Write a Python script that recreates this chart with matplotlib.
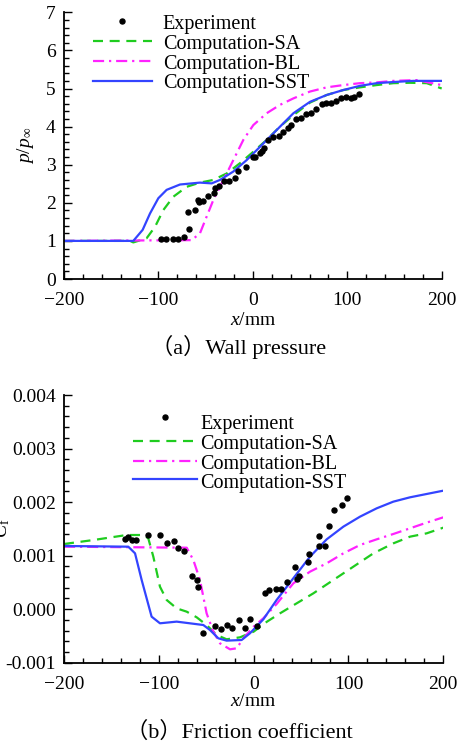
import matplotlib
matplotlib.use("Agg")
import matplotlib.pyplot as plt
from matplotlib.lines import Line2D
from matplotlib.ticker import MultipleLocator, FormatStrFormatter
import numpy as np

plt.rcParams['font.family'] = ['Liberation Serif', 'Noto Sans CJK SC']
plt.rcParams['mathtext.fontset'] = 'custom'
plt.rcParams['mathtext.rm'] = 'Liberation Serif'
plt.rcParams['mathtext.it'] = 'Liberation Serif:italic'
plt.rcParams['axes.unicode_minus'] = True

# ---------------- wall pressure ----------------
p_exp_x = [-97.3, -92.0, -84.9, -78.9, -72.9, -67.3, -68.3, -61.3, -57.7, -56.7,
           -52.4, -47.1, -41.2, -40.1, -35.5, -30.6, -24.9, -18.9, -15.4, -7.6,
           0.5, 2.3, 7.6, 9.3, 11.8, 16.4, 21.7, 27.7, 31.6, 37.6,
           40.4, 45.7, 50.6, 56.3, 61.2, 66.9, 72.9, 77.1, 82.4, 88.0,
           93.0, 98.6, 103.6, 107.1, 112.8]
p_exp_y = [1.06, 1.06, 1.06, 1.05, 1.10, 1.30, 1.76, 1.82, 2.08, 2.02,
           2.06, 2.17, 2.26, 2.39, 2.44, 2.57, 2.57, 2.66, 2.84, 2.93,
           3.21, 3.21, 3.32, 3.35, 3.44, 3.65, 3.73, 3.75, 3.85, 3.96,
           4.04, 4.20, 4.23, 4.33, 4.36, 4.47, 4.60, 4.62, 4.63, 4.66,
           4.74, 4.77, 4.76, 4.79, 4.85]

p_sa_x = [-200, -130, -126.6, -112.5, -103.6, -94.8, -84.2, -70.1, -56.0, -41.9,
          -27.7, -13.6, 0.5, 14.6, 28.7, 42.9, 60.5, 78.2, 95.8, 113.5,
          131.1, 148.8, 166.4, 184.1, 200]
p_sa_y = [1.00, 1.00, 0.96, 1.07, 1.37, 1.81, 2.16, 2.42, 2.53, 2.60,
          2.77, 3.04, 3.34, 3.65, 4.00, 4.30, 4.63, 4.83, 4.96, 5.03,
          5.09, 5.14, 5.15, 5.14, 5.00]

p_bl_x = [-200, -64.8, -56.0, -48.9, -41.9, -34.8, -27.7, -20.7, -10.1, 0.5,
          14.6, 28.7, 42.9, 60.5, 78.2, 95.8, 113.5, 131.1, 148.8, 173.4, 200]
p_bl_y = [1.00, 1.02, 1.20, 1.64, 2.07, 2.42, 2.77, 3.12, 3.65, 4.04,
          4.35, 4.57, 4.74, 4.92, 5.03, 5.09, 5.14, 5.16, 5.20, 5.22, 5.09]

p_sst_x = [-200, -126.6, -116.7, -108.9, -100.1, -91.3, -77.2, -56.0, -43.6, -34.8,
           -20.7, -6.6, 7.6, 25.2, 42.9, 60.5, 78.2, 95.8, 113.5, 131.1,
           148.8, 169.9, 200]
p_sst_y = [1.00, 1.00, 1.29, 1.72, 2.12, 2.34, 2.48, 2.53, 2.51, 2.60,
           2.82, 3.12, 3.47, 3.91, 4.35, 4.65, 4.83, 4.96, 5.07, 5.14,
           5.17, 5.20, 5.20]

# ---------------- friction coefficient (units of 1e-3) ----------------
cf_exp_x = [-135.7, -132.2, -128.6, -124.1, -111.1, -98.8, -91.7, -83.7, -79.4, -73.1,
            -65.4, -60.1, -59.0, -53.8, -40.8, -34.8, -28.5, -22.8, -15.1, -9.1,
            -3.9, 3.9, 12.0, 16.2, 23.6, 28.5, 34.8, 43.6, 45.3, 48.2,
            57.6, 58.7, 69.2, 69.2, 75.2, 79.4, 84.7, 93.1, 98.1]
cf_exp_y = [1.304, 1.341, 1.291, 1.291, 1.385, 1.385, 1.242, 1.273, 1.148, 1.092,
            0.626, 0.545, 0.407, -0.451, -0.314, -0.364, -0.296, -0.358, -0.202, -0.345,
            -0.190, -0.315, 0.308, 0.351, 0.382, 0.382, 0.513, 0.787, 0.557, 0.625,
            0.887, 1.024, 1.366, 1.186, 1.186, 1.559, 1.858, 1.939, 2.070]

cf_sa_x = [-200, -169.1, -133.9, -116.3, -111.1, -105.8, -98.8, -91.7, -81.2, -70.6,
           -60.1, -49.6, -39.0, -28.5, -14.4, 0.0, 14.1, 27.8, 41.8, 62.9,
           84.0, 105.1, 126.2, 147.3, 164.9, 182.4, 200]
cf_sa_y = [1.217, 1.291, 1.385, 1.385, 1.323, 0.980, 0.420, 0.171, 0.015, -0.047,
           -0.152, -0.296, -0.482, -0.563, -0.526, -0.420, -0.233, -0.078, 0.071, 0.295,
           0.544, 0.793, 1.042, 1.229, 1.354, 1.416, 1.522]

cf_bl_x = [-200, -70.6, -63.6, -56.6, -49.6, -42.5, -35.5, -24.9, -17.9, -10.8,
           0.0, 10.2, 24.2, 41.8, 59.4, 77.0, 94.6, 112.1, 129.7, 147.3,
           164.9, 182.4, 200]
cf_bl_y = [1.167, 1.148, 0.918, 0.545, -0.078, -0.420, -0.638, -0.750, -0.731, -0.544,
           -0.326, -0.171, 0.096, 0.482, 0.700, 0.856, 1.042, 1.198, 1.304, 1.404,
           1.510, 1.616, 1.715]

cf_sst_x = [-200, -132.2, -125.1, -118.1, -107.6, -98.8, -81.2, -53.1, -46.1, -37.3,
            -28.5, -12.7, -3.9, 10.2, 24.2, 41.8, 59.4, 77.0, 94.6, 112.1,
            129.7, 147.3, 164.9, 182.4, 200]
cf_sst_y = [1.180, 1.167, 1.043, 0.545, -0.140, -0.264, -0.233, -0.296, -0.389, -0.544,
            -0.588, -0.576, -0.451, -0.190, 0.171, 0.576, 0.980, 1.304, 1.541, 1.727,
            1.883, 2.008, 2.089, 2.151, 2.213]

labels = ['Experiment', 'Computation-SA', 'Computation-BL', 'Computation-SST']
x_ticks = [-200, -100, 0, 100, 200]

GREEN = '#1fcc1f'
MAGENTA = '#ff22ff'
BLUE = '#3344ff'
LW = 1.6
sa_style = dict(color=GREEN, lw=LW, dashes=(4.5, 3.0))
bl_style = dict(color=MAGENTA, lw=LW, dashes=(5.0, 2.2, 1.0, 2.2))
sst_style = dict(color=BLUE, lw=LW, linestyle='-')
exp_style = dict(color='black', marker='o', markersize=3.6, linestyle='none')

W, H = 464, 747
fig = plt.figure(figsize=(W / 100, H / 100), dpi=100)


def fx(px):
    return px / W


def fy(py):
    return 1 - py / H


def style_axes(ax):
    for side in ('top', 'right'):
        ax.spines[side].set_visible(False)
    for side in ('left', 'bottom'):
        ax.spines[side].set_linewidth(1.3)
    ax.tick_params(which='both', direction='in', top=False, right=False,
                   labelsize=14, width=1.0)
    ax.tick_params(axis='x', pad=9.5)
    ax.tick_params(axis='y', pad=6)
    ax.tick_params(which='major', length=6)
    ax.tick_params(which='minor', length=3.5)
    ax.set_xlim(-200, 200)
    ax.set_xticks(x_ticks)
    ax.xaxis.set_minor_locator(MultipleLocator(20))


def draw_legend(marker_xy, line_x0, line_x1, line_ys, text_x, text_ys):
    fig.add_artist(Line2D([fx(marker_xy[0])], [fy(marker_xy[1])], transform=fig.transFigure,
                          **exp_style))
    for st, yy in zip([sa_style, bl_style, sst_style], line_ys):
        fig.add_artist(Line2D([fx(line_x0), fx(line_x1)], [fy(yy), fy(yy)],
                              transform=fig.transFigure, **st))
    for lab, yy in zip(labels, text_ys):
        fig.text(fx(text_x), fy(yy), lab, fontsize=14.5, ha='left', va='center_baseline')


# (a) wall pressure
ax1 = fig.add_axes([fx(64), fy(279), fx(441.7) - fx(64), fy(12.3) - fy(279)])
style_axes(ax1)
ax1.set_ylim(0, 7)
ax1.yaxis.set_major_locator(MultipleLocator(1))
ax1.yaxis.set_minor_locator(MultipleLocator(0.2))
ax1.plot(p_sa_x, p_sa_y, **sa_style)
ax1.plot(p_bl_x, p_bl_y, **bl_style)
ax1.plot(p_sst_x, p_sst_y, **sst_style)
ax1.plot(p_exp_x, p_exp_y, **exp_style)
ax1.set_xlabel('$x$/mm', fontsize=14, labelpad=2)
ax1.set_ylabel(r'$p/p_{\infty}$', fontsize=14)
ax1.yaxis.set_label_coords(-0.074, 0.5)
fig.text(fx(239), fy(347), '（a）Wall pressure', fontsize=16, ha='center', va='center')
draw_legend((121.7, 20.7), 93.3, 151.7, [40.7, 61.0, 81.0], 162.7, [21.7, 41.7, 61.7, 81.0])

# (b) friction coefficient
ax2 = fig.add_axes([fx(64), fy(662.7), fx(443.3) - fx(64), fy(395) - fy(662.7)])
style_axes(ax2)
ax2.set_ylim(-0.001, 0.004)
ax2.yaxis.set_major_locator(MultipleLocator(0.001))
ax2.yaxis.set_minor_locator(MultipleLocator(0.0002))
ax2.yaxis.set_major_formatter(FormatStrFormatter('%.3f'))
scale = 1e-3
ax2.plot(cf_sa_x, np.array(cf_sa_y) * scale, **sa_style)
ax2.plot(cf_bl_x, np.array(cf_bl_y) * scale, **bl_style)
ax2.plot(cf_sst_x, np.array(cf_sst_y) * scale, **sst_style)
ax2.plot(cf_exp_x, np.array(cf_exp_y) * scale, **exp_style)
ax2.set_xlabel('$x$/mm', fontsize=14, labelpad=0)
ax2.set_ylabel(r'$C_{\mathrm{f}}$', fontsize=14)
ax2.yaxis.set_label_coords(-0.137, 0.503)
fig.text(fx(239), fy(732), '（b）Friction coefficient', fontsize=16, ha='center', va='center')
draw_legend((165.3, 416.7), 133.3, 196.7, [441.0, 460.7, 479.3], 200.0, [421.7, 441.7, 461.7, 481.0])

fig.savefig('out.png', dpi=100)
